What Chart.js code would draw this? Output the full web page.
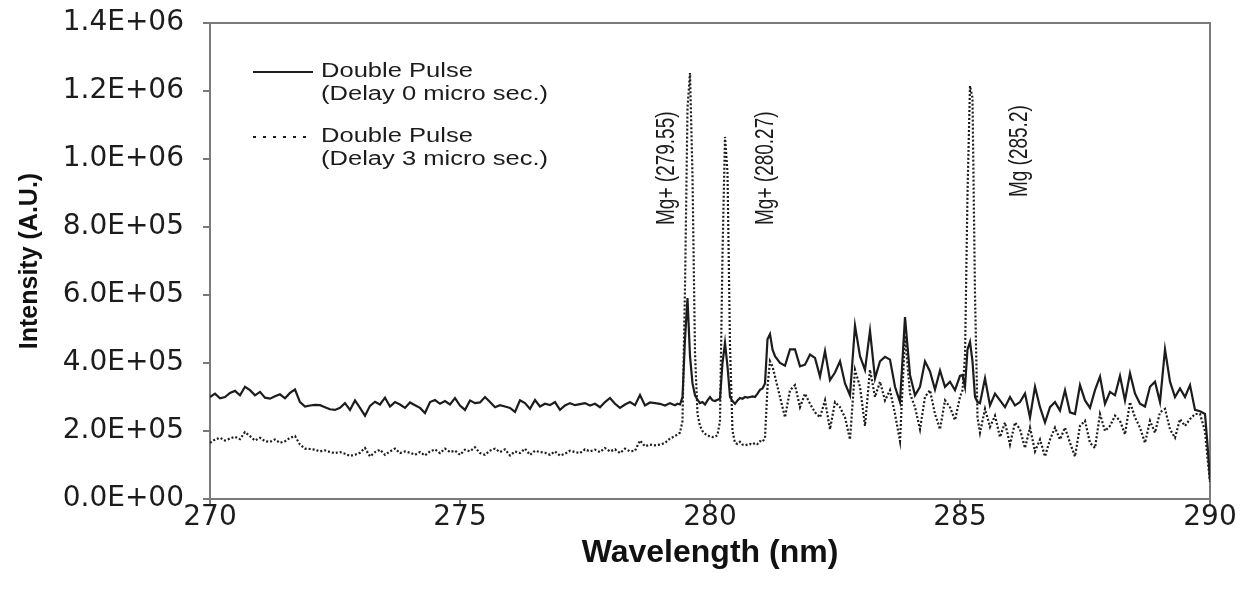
<!DOCTYPE html>
<html lang="en">
<head>
    <meta charset="UTF-8">
    <title>Mg emission spectrum - double pulse</title>
    <script src="https://cdn.jsdelivr.net/npm/chart.js"></script>
    <style>
        html, body { margin: 0; padding: 0; background: #fff; }
        canvas { display: block; }
    </style>
</head>
<body>
    <canvas id="spectrumChart" width="1244" height="593"></canvas>

    <script>
        // Wavelength (nm) of each sample
        const wavelength = [
            270.0, 270.1, 270.2, 270.3, 270.4, 270.5, 270.6, 270.7, 270.8, 270.9,
            271.0, 271.1, 271.2, 271.3, 271.4, 271.5, 271.6, 271.7, 271.8, 271.9,
            272.0, 272.1, 272.2, 272.3, 272.4, 272.5, 272.6, 272.7, 272.8, 272.9,
            273.0, 273.1, 273.2, 273.3, 273.4, 273.5, 273.6, 273.7, 273.8, 273.9,
            274.0, 274.1, 274.2, 274.3, 274.4, 274.5, 274.6, 274.7, 274.8, 274.9,
            275.0, 275.1, 275.2, 275.3, 275.4, 275.5, 275.6, 275.7, 275.8, 275.9,
            276.0, 276.1, 276.2, 276.3, 276.4, 276.5, 276.6, 276.7, 276.8, 276.9,
            277.0, 277.1, 277.2, 277.3, 277.4, 277.5, 277.6, 277.7, 277.8, 277.9,
            278.0, 278.1, 278.2, 278.3, 278.4, 278.5, 278.6, 278.7, 278.8, 278.9,
            279.0, 279.1, 279.2, 279.3,
            279.35, 279.40, 279.45, 279.50, 279.55, 279.60, 279.65, 279.70, 279.75, 279.80,
            279.85, 279.90, 279.95, 280.00, 280.05, 280.10, 280.15, 280.20, 280.25, 280.30,
            280.35, 280.40, 280.45, 280.50, 280.55, 280.60, 280.65, 280.70, 280.75, 280.80,
            280.85, 280.90, 280.95, 281.00, 281.05, 281.10, 281.15, 281.20, 281.25, 281.30,
            281.4, 281.5, 281.6, 281.7, 281.8, 281.9, 282.0, 282.1, 282.2, 282.3,
            282.4, 282.5, 282.6, 282.7, 282.8, 282.9, 283.0, 283.1, 283.2, 283.3,
            283.4, 283.5, 283.6, 283.7, 283.8, 283.9, 284.0, 284.1, 284.2, 284.3,
            284.4, 284.5, 284.6, 284.7, 284.8, 284.9, 285.0,
            285.05, 285.10, 285.15, 285.20, 285.25, 285.30, 285.35, 285.40,
            285.5, 285.6, 285.7, 285.8, 285.9, 286.0, 286.1, 286.2, 286.3, 286.4,
            286.5, 286.6, 286.7, 286.8, 286.9, 287.0, 287.1, 287.2, 287.3, 287.4,
            287.5, 287.6, 287.7, 287.8, 287.9, 288.0, 288.1, 288.2, 288.3, 288.4,
            288.5, 288.6, 288.7, 288.8, 288.9, 289.0, 289.1, 289.2, 289.3, 289.4,
            289.5, 289.6, 289.7, 289.8, 289.9,
            289.95, 290.0
        ];

        // Intensity in thousands of A.U. (x 1000)
        const delay0 = [
            300, 310, 296, 300, 312, 318, 305, 330, 320, 305,
            315, 298, 295, 302, 308, 296, 312, 322, 285, 272,
            275, 277, 276, 270, 264, 262, 268, 282, 262, 290,
            268, 245, 274, 286, 278, 298, 272, 285, 278, 268,
            284, 276, 268, 253, 285, 291, 280, 288, 278, 297,
            275, 262, 290, 282, 284, 300, 285, 270, 276, 272,
            268, 256, 290, 282, 265, 291, 272, 280, 276, 285,
            262, 275, 282, 276, 279, 282, 275, 280, 270, 285,
            297, 280, 268, 278, 285, 276, 306, 275, 284, 282,
            280, 275, 282, 276,
            280, 278, 300, 470, 591, 420, 340, 305, 292, 282,
            285, 278, 290, 300, 290, 288, 292, 295, 400, 459,
            390, 300, 288, 280, 290, 297, 295, 300, 298, 300,
            302, 300, 310, 321, 325, 340, 470, 485, 440, 420,
            400, 392, 440, 440, 390, 395, 425, 415, 360, 435,
            350, 372, 405, 340, 305, 510, 420, 380, 495, 355,
            405, 418, 410, 330, 285, 535, 365, 305, 330, 405,
            375, 322, 378, 330, 345, 320, 362,
            365, 330, 440, 462, 405, 300, 285, 282,
            355, 275, 310, 290, 270, 300, 275, 285, 310, 240,
            330, 270, 225, 270, 285, 260, 320, 255, 250, 335,
            290, 268, 320, 360, 280, 315, 305, 362, 290, 370,
            310, 280, 272, 330, 345, 285, 440, 345, 300, 325,
            300, 335, 262, 258, 250,
            160, 55
        ];

        const delay3 = [
            165, 175, 180, 172, 178, 183, 176, 197, 185, 172,
            180, 170, 168, 175, 165, 170, 180, 185, 160, 148,
            147, 145, 140, 143, 138, 135, 138, 133, 127, 130,
            136, 150, 125, 138, 145, 130, 140, 148, 135, 140,
            136, 130, 138, 128, 140, 146, 135, 148, 138, 142,
            130, 145, 140, 152, 135, 130, 142, 148, 138, 146,
            128, 140, 135, 148, 130, 142, 138, 136, 130, 140,
            128, 133, 142, 138, 135, 146, 140, 145, 138, 150,
            140, 146, 135, 148, 140, 142, 172, 155, 160, 158,
            160, 165, 178, 185,
            190, 195, 230, 620, 1150, 1253, 950, 430, 250, 215,
            200, 192, 186, 185, 182, 183, 188, 230, 720, 1065,
            960, 450, 200, 165, 162, 168, 160, 158, 160, 162,
            160, 165, 162, 170, 168, 180, 330, 405, 390, 360,
            300, 240, 320, 335, 270, 310, 280, 255, 240, 290,
            205, 285, 270, 240, 175, 380, 330, 215, 380, 300,
            345, 290, 320, 250, 170, 480, 310, 270, 205, 300,
            320, 250, 205, 290, 270, 232, 300,
            320, 420, 900, 1215, 1180, 600, 240, 195,
            265, 212, 245, 182, 225, 160, 225, 205, 150, 210,
            140, 175, 125, 175, 210, 175, 210, 165, 125, 215,
            230, 165, 150, 250, 200, 215, 245, 230, 190, 285,
            240, 210, 165, 230, 195, 255, 265, 205, 180, 235,
            215, 235, 250, 250, 200,
            120, 50
        ];

        const seriesNames = ['Double Pulse (Delay 0 micro sec.)', 'Double Pulse (Delay 3 micro sec.)'];
        const legendLines = [
            ['Double Pulse', '(Delay 0 micro sec.)'],
            ['Double Pulse', '(Delay 3 micro sec.)']
        ];

        // Line identification labels (wavelength / intensity where the text starts)
        const peakNames = ['Mg+ (279.55)', 'Mg+ (280.27)', 'Mg (285.2)'];
        const peakLabelX = [279.14, 281.12, 286.2];
        const peakLabelY = [806, 806, 888];

        const axisColor = '#7a7a7a';
        const inkColor = '#1c1c1c';
        const tickFont = { family: '"DejaVu Sans", sans-serif', size: 28 };

        // 1400 -> "1.4E+06"
        function sciLabel(v) {
            const parts = (v * 1000).toExponential(1).split('e');
            const exp = Number(parts[1]);
            return parts[0] + 'E' + (exp < 0 ? '-' : '+') + String(Math.abs(exp)).padStart(2, '0');
        }

        function toPoints(values) {
            return wavelength.map((w, i) => ({ x: w, y: values[i] }));
        }

        // legend and peak labels drawn inside the plot
        const overlayPlugin = {
            id: 'overlay',
            afterDatasetsDraw(chart) {
                const { ctx, chartArea: area, scales } = chart;
                ctx.save();
                ctx.fillStyle = inkColor;
                ctx.textBaseline = 'middle';
                ctx.textAlign = 'left';

                ctx.font = '19px "Liberation Sans", Arial, sans-serif';
                peakNames.forEach((name, i) => {
                    ctx.save();
                    ctx.translate(scales.x.getPixelForValue(peakLabelX[i]), scales.y.getPixelForValue(peakLabelY[i]));
                    ctx.rotate(-Math.PI / 2);
                    ctx.scale(1, 1.35);
                    ctx.fillText(name, 0, 0);
                    ctx.restore();
                });

                const rowY = [49, 114];
                ctx.font = '19.5px "Liberation Sans", Arial, sans-serif';
                chart.data.datasets.forEach((ds, i) => {
                    const y0 = area.top + rowY[i];
                    ctx.beginPath();
                    ctx.strokeStyle = ds.borderColor;
                    ctx.lineWidth = 2;
                    ctx.setLineDash(i === 0 ? [] : [3, 7]);
                    ctx.moveTo(area.left + 43, y0);
                    ctx.lineTo(area.left + 103, y0);
                    ctx.stroke();
                    legendLines[i].forEach((line, j) => {
                        ctx.save();
                        ctx.translate(area.left + 111, y0 + j * 23);
                        ctx.scale(1.31, 1);
                        ctx.fillText(line, 0, 0);
                        ctx.restore();
                    });
                });
                ctx.restore();
            }
        };

        new Chart(document.getElementById('spectrumChart'), {
            type: 'line',
            data: {
                datasets: [{
                    label: seriesNames[0],
                    data: toPoints(delay0),
                    borderColor: inkColor,
                    borderWidth: 2.2,
                    pointRadius: 0,
                    tension: 0
                }, {
                    label: seriesNames[1],
                    data: toPoints(delay3),
                    borderColor: inkColor,
                    borderWidth: 2.2,
                    borderDash: [2, 2],
                    pointRadius: 0,
                    tension: 0
                }]
            },
            options: {
                responsive: false,
                animation: false,
                devicePixelRatio: 1,
                layout: { padding: { left: 0, top: 23, right: 34, bottom: 0 } },
                plugins: {
                    legend: { display: false },
                    tooltip: { enabled: false }
                },
                scales: {
                    x: {
                        type: 'linear',
                        min: 270,
                        max: 290,
                        ticks: { stepSize: 5, font: tickFont, color: inkColor, padding: -5, maxRotation: 0 },
                        grid: { drawOnChartArea: false, tickLength: 7, color: axisColor, lineWidth: 2 },
                        border: { color: axisColor, width: 2 },
                        title: {
                            display: true,
                            text: 'Wavelength (nm)',
                            color: '#111',
                            font: { family: '"Liberation Sans", Arial, sans-serif', size: 32, weight: 'bold' },
                            padding: { top: 0, bottom: 21 }
                        },
                        afterFit(scale) {
                            scale.height = 94;
                            scale.paddingLeft = 0;
                            scale.paddingRight = 0;
                        }
                    },
                    y: {
                        min: 0,
                        max: 1400,
                        ticks: { stepSize: 200, font: tickFont, color: inkColor, padding: 19, callback: sciLabel },
                        grid: { drawOnChartArea: false, tickLength: 7, color: axisColor, lineWidth: 2 },
                        border: { color: axisColor, width: 2 },
                        title: {
                            display: true,
                            text: 'Intensity (A.U.)',
                            color: '#111',
                            font: { family: '"Liberation Sans", Arial, sans-serif', size: 25, weight: 'bold' },
                            padding: { top: 15, bottom: 0 }
                        },
                        afterFit(scale) {
                            scale.width = 210;
                            scale.paddingTop = 0;
                            scale.paddingBottom = 0;
                        }
                    },
                    xTop: {
                        type: 'linear',
                        position: 'top',
                        min: 270,
                        max: 290,
                        ticks: { display: false },
                        grid: { display: false },
                        border: { color: axisColor, width: 2 },
                        afterFit(scale) { scale.height = 0; }
                    },
                    yRight: {
                        position: 'right',
                        min: 0,
                        max: 1400,
                        ticks: { display: false },
                        grid: { display: false },
                        border: { color: axisColor, width: 2 },
                        afterFit(scale) { scale.width = 0; }
                    }
                }
            },
            plugins: [overlayPlugin]
        });
    </script>
</body>
</html>
